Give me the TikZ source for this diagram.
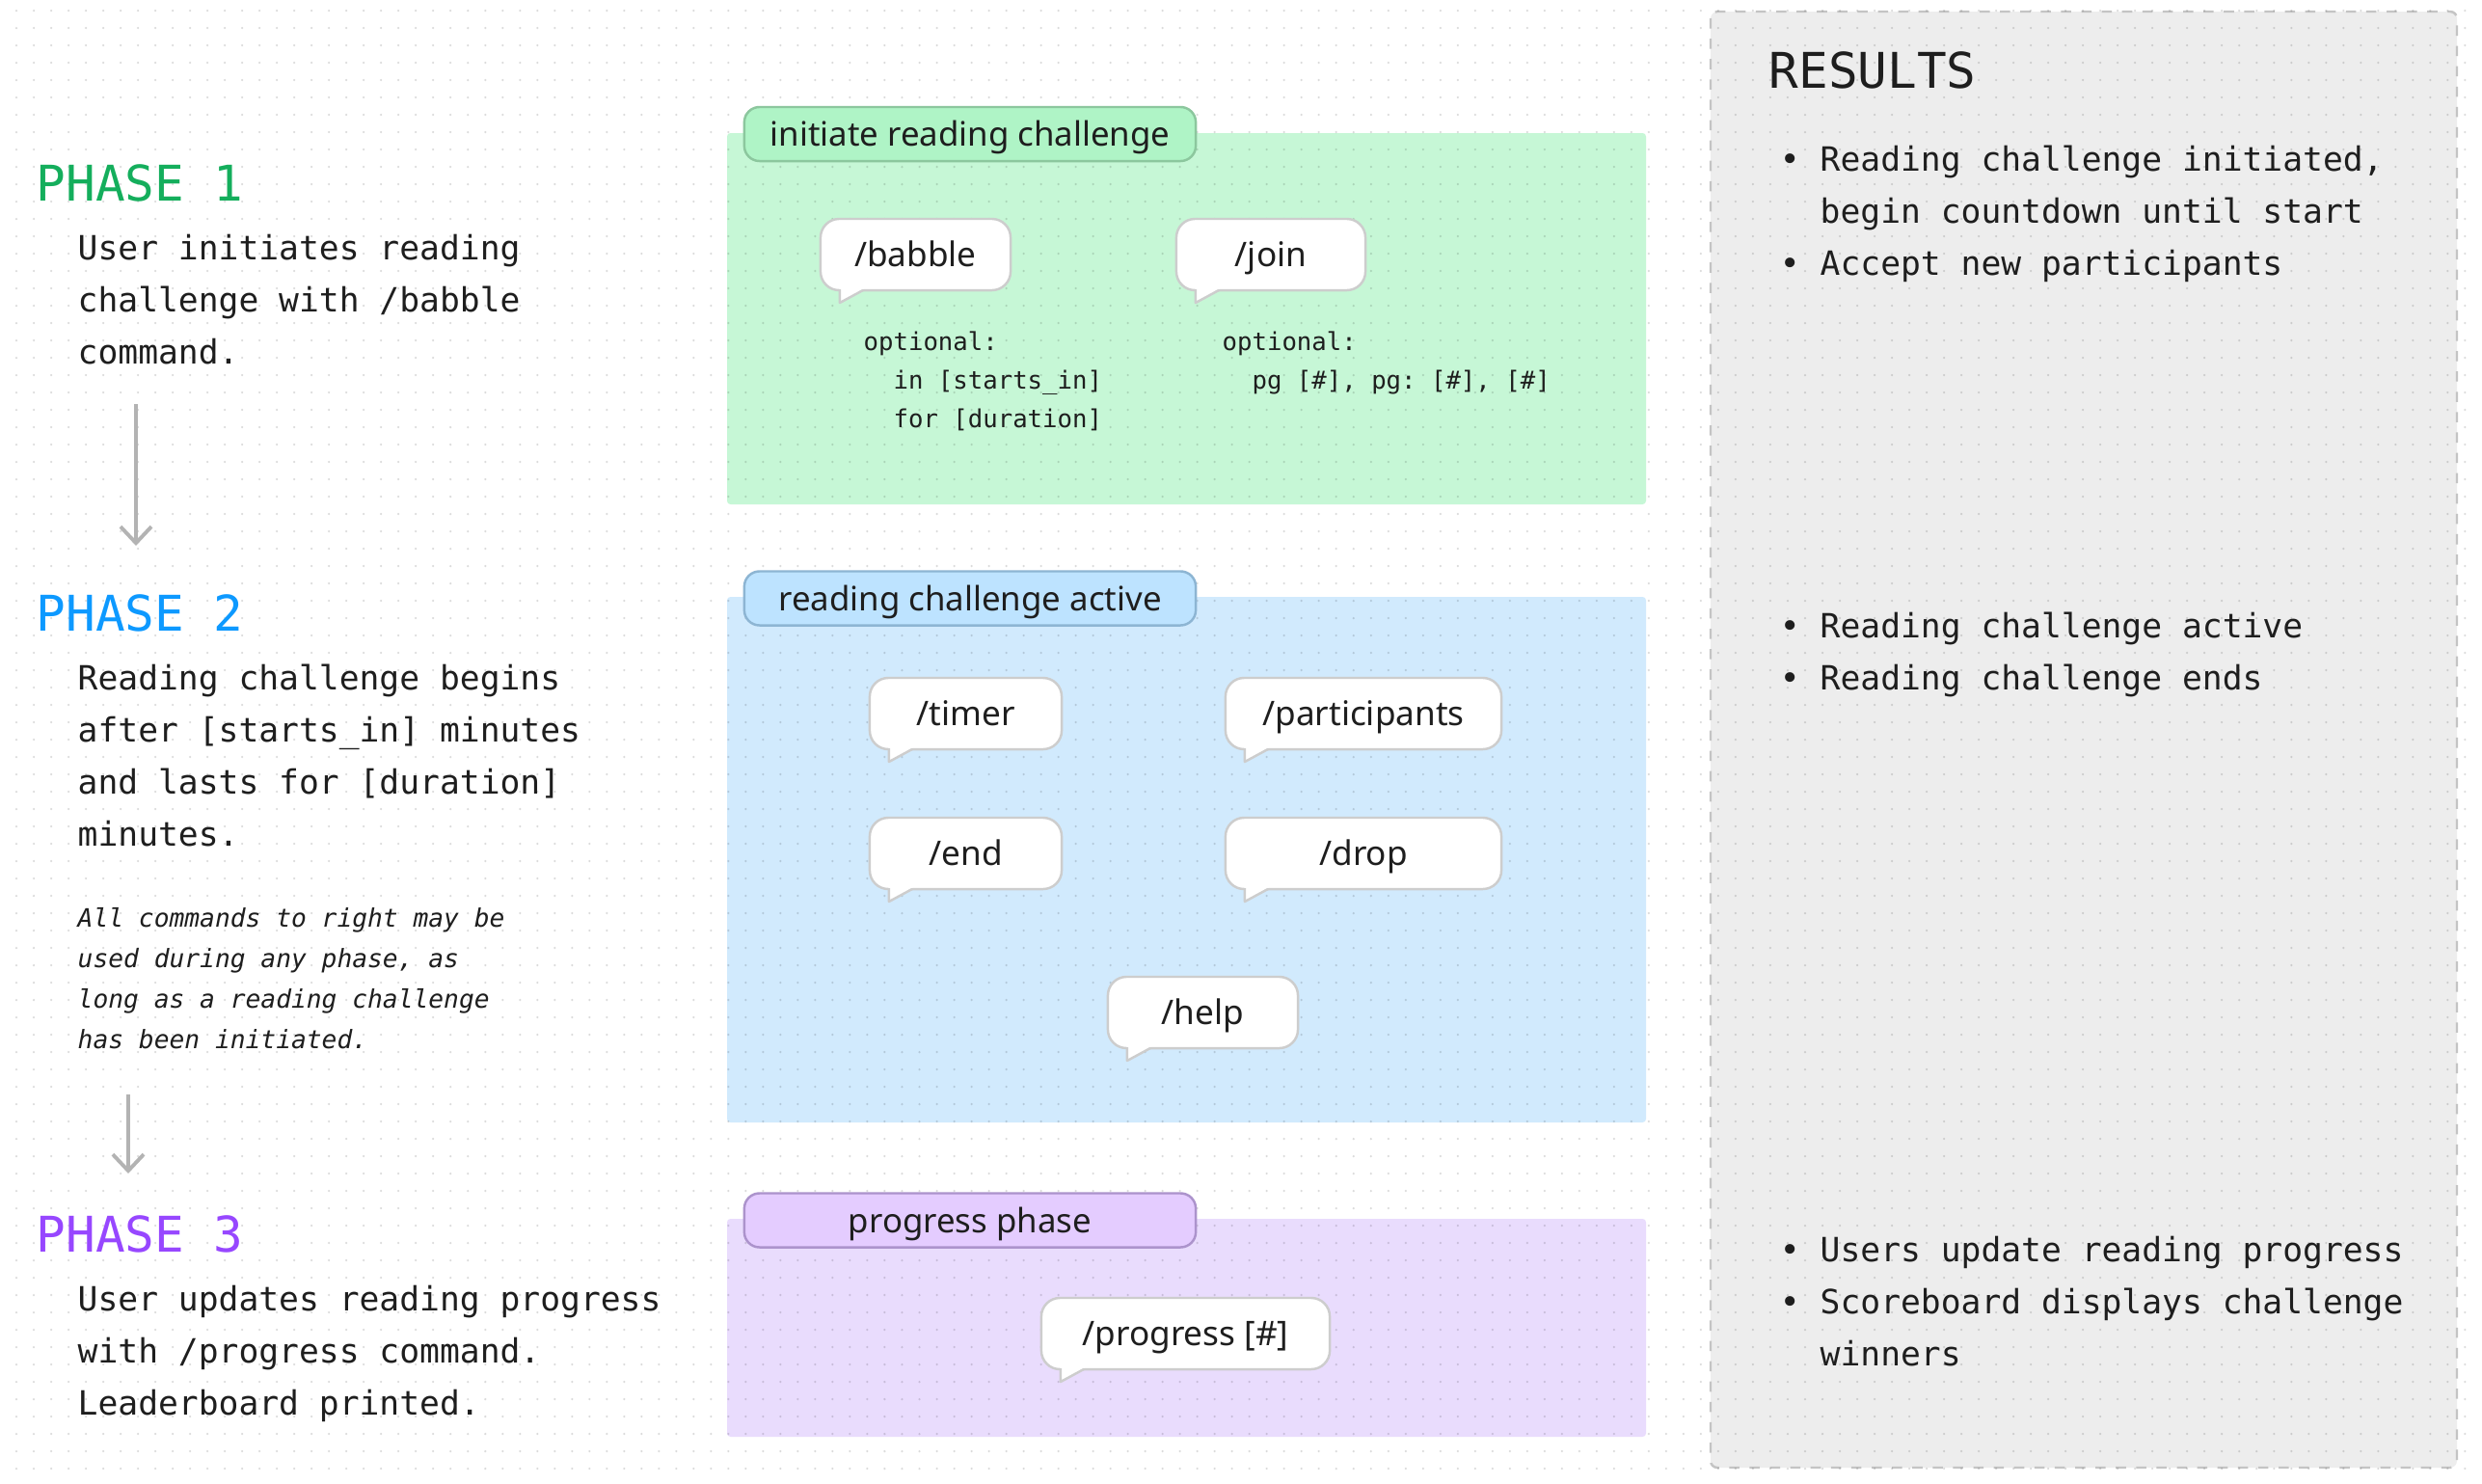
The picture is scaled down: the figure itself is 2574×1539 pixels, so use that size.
\documentclass[tikz,border=0pt]{standalone}
\usepackage{fontspec}
\setmonofont{DejaVu Sans Mono}
\setsansfont{Noto Sans}
\usetikzlibrary{arrows.meta}
\pgfdeclarelayer{boxlayer}
\pgfdeclarelayer{dotlayer}
\pgfsetlayers{boxlayer,dotlayer,main}
\definecolor{ink}{HTML}{1E1E1E}
\definecolor{phasegreen}{HTML}{14AE5C}
\definecolor{phaseblue}{HTML}{0D99FF}
\definecolor{phasepurple}{HTML}{9747FF}
\definecolor{greenzone}{HTML}{C6F7D6}
\definecolor{greenpill}{HTML}{AFF4C6}
\definecolor{greenrim}{HTML}{8CC79E}
\definecolor{bluezone}{HTML}{D1EAFD}
\definecolor{bluepill}{HTML}{BDE3FF}
\definecolor{bluerim}{HTML}{8DB5D3}
\definecolor{purplezone}{HTML}{E9DCFD}
\definecolor{purplepill}{HTML}{E4CCFF}
\definecolor{purplerim}{HTML}{AC93CC}
\definecolor{resultgray}{HTML}{EDEDED}
\definecolor{resultrim}{HTML}{C4C4C4}
\definecolor{bubbleline}{HTML}{CDCDCD}
\definecolor{arrowgray}{HTML}{B3B3B3}
\newcommand{\monosize}[2]{\ttfamily\fontsize{#1}{#2}\selectfont}
\tikzstyle{griddots}=[draw=black, draw opacity=0.14, line width=0.025cm, line cap=round, dash pattern=on 0pt off 0.18cm]
\tikzstyle{zone}=[rounded corners=1pt]
\tikzstyle{results}=[fill=resultgray, draw=resultrim, line width=0.7pt, dashed, rounded corners=2pt]
\tikzstyle{phase}=[anchor=base west, inner sep=0, font=\monosize{14.5pt}{18pt}]
\tikzstyle{body}=[anchor=base west, inner sep=0, text width=9cm, align=flush left, execute at begin node={\spaceskip=0.602em\relax}, text=ink, font=\monosize{9.85pt}{15.36pt}]
\tikzstyle{note}=[body, font=\itshape\monosize{7.47pt}{11.95pt}]
\tikzstyle{optional}=[body, font=\monosize{7.3pt}{11.5pt}]
\tikzstyle{bubble}=[rectangle, rounded corners=5.5pt, fill=white, draw=bubbleline, line width=0.7pt, outer sep=0, inner sep=0, minimum height=0.74cm, text height=0.72em, text depth=0pt, text=ink, font=\sffamily\fontsize{10pt}{12pt}\selectfont]
\tikzstyle{pill}=[rectangle, rounded corners=4.5pt, line width=0.7pt, outer sep=0, minimum width=4.68cm, minimum height=0.56cm, text height=0.72em, text depth=0pt, text=ink, font=\sffamily\fontsize{9.9pt}{11pt}\selectfont]
\tikzstyle{flow}=[draw=arrowgray, line width=1.1pt, -{Straight Barb[length=0.17cm, width=0.32cm]}]
\newcommand{\bubtail}[1]{%
	\fill[white] ([shift={(20,-3)}]#1.south west) -- ([shift={(20,13)}]#1.south west) -- ([shift={(47,-3)}]#1.south west) -- cycle;
	\draw[draw=bubbleline, line width=0.7pt, line join=round] ([shift={(20,-1)}]#1.south west) -- ([shift={(20,13)}]#1.south west) -- ([shift={(44,0)}]#1.south west);
}
\newcommand{\bul}{\leavevmode\llap{\textbullet\hspace{6pt}}}

\begin{document}
\begin{tikzpicture}[x=0.01cm, y=-0.01cm]
	\useasboundingbox (0,0) rectangle (2574,1539);
	\begin{pgfonlayer}{boxlayer}
		\fill[white] (0,0) rectangle (2574,1539);
		\draw[style=results] (1774,12) rectangle (2548,1522);
		\fill[style=zone, greenzone] (754,138) rectangle (1707,523);
		\fill[style=zone, bluezone] (754,619) rectangle (1707,1164);
		\fill[style=zone, purplezone] (754,1264) rectangle (1707,1490);
	\end{pgfonlayer}
	\begin{pgfonlayer}{dotlayer}
		\foreach \y in {11,29,...,1535}
			\draw[style=griddots] (17,\y) -- (2574,\y);
	\end{pgfonlayer}

	\node [style=phase, text=phasegreen] (0) at (37, 208) {PHASE 1};
	\node [style=body] (1) at (80, 269) {User initiates reading\\challenge with /babble\\command.};
	\node [style=phase, text=phaseblue] (2) at (37, 654) {PHASE 2};
	\node [style=body] (3) at (80, 715) {Reading challenge begins\\after [starts\_in] minutes\\and lasts for [duration]\\minutes.};
	\node [style=note] (4) at (80, 961) {All commands to right may be\\used during any phase, as\\long as a reading challenge\\has been initiated.};
	\node [style=phase, text=phasepurple] (5) at (37, 1298) {PHASE 3};
	\node [style=body] (6) at (80, 1359) {User updates reading progress\\with /progress command.\\Leaderboard printed.};

	\coordinate (7) at (141, 419);
	\coordinate (8) at (141, 566);
	\coordinate (9) at (133, 1135);
	\coordinate (10) at (133, 1217);
	\draw [style=flow] (7) -- (8);
	\draw [style=flow] (9) -- (10);

	\node [style=pill, fill=greenpill, draw=greenrim] (11) at (1006, 139) {initiate reading challenge};
	\node [style=bubble, minimum width=1.97cm] (12) at (949.5, 264) {/babble};
	\node [style=bubble, minimum width=1.96cm] (13) at (1318, 264) {/join};
	\node [style=optional] (14) at (895, 363) {optional:\\\hphantom{xx}in [starts\_in]\\\hphantom{xx}for [duration]};
	\node [style=optional] (15) at (1267, 363) {optional:\\\hphantom{xx}pg [\#], pg: [\#], [\#]};

	\node [style=pill, fill=bluepill, draw=bluerim] (16) at (1006, 620.5) {reading challenge active};
	\node [style=bubble, minimum width=1.99cm] (17) at (1001.5, 740) {/timer};
	\node [style=bubble, minimum width=2.86cm] (18) at (1414, 740) {/participants};
	\node [style=bubble, minimum width=1.99cm] (19) at (1001.5, 885) {/end};
	\node [style=bubble, minimum width=2.86cm] (20) at (1414, 885) {/drop};
	\node [style=bubble, minimum width=1.97cm] (21) at (1247.5, 1050) {/help};

	\node [style=pill, fill=purplepill, draw=purplerim] (22) at (1006, 1265.5) {progress phase};
	\node [style=bubble, minimum width=2.99cm] (23) at (1229.5, 1383) {/progress [\#]};

	\foreach \b in {12,13,17,18,19,20,21,23} {\bubtail{\b}}

	\node [style=phase, text=ink] (24) at (1834, 91) {RESULTS};
	\node [style=body] (25) at (1887, 177) {\bul Reading challenge initiated,\\begin countdown until start\\\bul Accept new participants};
	\node [style=body] (26) at (1887, 661) {\bul Reading challenge active\\\bul Reading challenge ends};
	\node [style=body] (27) at (1887, 1308) {\bul Users update reading progress\\\bul Scoreboard displays challenge\\winners};
\end{tikzpicture}
\end{document}
